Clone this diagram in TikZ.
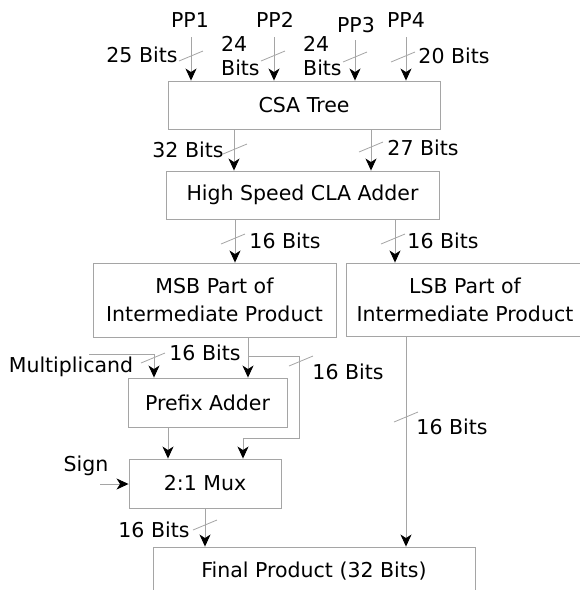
\documentclass[tikz,border=0pt]{standalone}
\usepackage{fontspec}
\setmainfont{DejaVu Sans}
\usetikzlibrary{arrows.meta}
\definecolor{linegray}{RGB}{165,165,165}
\begin{document}
\begin{tikzpicture}[x=1pt,y=-1pt,
  box/.style={draw=linegray,line width=0.9pt,rectangle,inner sep=0pt,align=center,font=\fontsize{20.5}{28}\selectfont},
  lbl/.style={inner sep=0pt,font=\fontsize{20.5}{24}\selectfont},
  arr/.style={draw=linegray,line width=0.9pt,-{Stealth[length=12pt,width=11pt,inset=3.5pt,color=black,fill=black]}},
  slash/.style={draw=linegray,line width=0.8pt}]
\clip (0,0) rectangle (580,590);
\useasboundingbox (0,0) rectangle (580,590);
% boxes
\node[box,minimum width=272pt,minimum height=48pt] (csa) at (304,105) {CSA Tree};
\node[box,minimum width=273pt,minimum height=48pt] (cla) at (302.5,195) {High Speed CLA Adder};
\node[box,minimum width=243pt,minimum height=74pt] (msb) at (214.5,300) {MSB Part of\\Intermediate Product};
\node[box,minimum width=238pt,minimum height=73pt] (lsb) at (465,299.5) {LSB Part of\\Intermediate Product};
\node[box,minimum width=159pt,minimum height=49pt] (pre) at (207.5,402.5) {Prefix Adder};
\node[box,minimum width=152pt,minimum height=49pt] (mux) at (205,483.5) {2:1 Mux};
\node[box,minimum width=322pt,minimum height=48pt] (fin) at (314,571) {Final Product (32 Bits)};
% top labels
\node[lbl] (pp1) at (190,20) {PP1};
\node[lbl] (pp2) at (275,20) {PP2};
\node[lbl] (pp3) at (356,25) {PP3};
\node[lbl] (pp4) at (406,20) {PP4};
\node[lbl] (b1) at (142,55) {25 Bits};
\node[lbl,anchor=west,align=left] (b2) at (221,56) {24\\Bits};
\node[lbl,anchor=west,align=left] (b3) at (303,56) {24\\Bits};
\node[lbl] (b4) at (454,56) {20 Bits};
\node[lbl] (b5) at (188,150) {32 Bits};
\node[lbl] (b6) at (423,148) {27 Bits};
\node[lbl] (b7) at (285,241) {16 Bits};
\node[lbl] (b8) at (443,241) {16 Bits};
\node[lbl] (mc) at (71,367) {Multiplicand};
\node[lbl] (b9) at (205,353) {16 Bits};
\node[lbl] (b10) at (348,372) {16 Bits};
\node[lbl] (b11) at (452,427) {16 Bits};
\node[lbl] (sg) at (86,466) {Sign};
\node[lbl] (b12) at (154,530) {16 Bits};
% PP arrows
\coordinate (x1) at (191,37);
\coordinate (x2) at (274,37);
\coordinate (x3) at (355,40);
\coordinate (x4) at (406,37);
\foreach \c in {x1,x2,x3,x4}{\draw[arr] (\c) -- (\c |- csa.north);}
% CSA -> CLA
\coordinate (c1) at (234,0);
\coordinate (c2) at (371,0);
\draw[arr] (c1 |- csa.south) -- (c1 |- cla.north);
\draw[arr] (c2 |- csa.south) -- (c2 |- cla.north);
% CLA -> MSB/LSB
\coordinate (c3) at (235,0);
\coordinate (c4) at (395,0);
\draw[arr] (c3 |- cla.south) -- (c3 |- msb.north);
\draw[arr] (c4 |- cla.south) -- (c4 |- lsb.north);
% MSB -> prefix and branch to mux
\coordinate (c5) at (248,0);
\coordinate (br) at (248,356);
\draw[arr] (c5 |- msb.south) -- (c5 |- pre.north);
\coordinate (m2) at (243,0);
\draw[arr] (br) -- (299,356) -- (299,438) -- (243,438) -- (m2 |- mux.north);
% multiplicand
\coordinate (mcs) at (89,354);
\coordinate (c6) at (154,0);
\draw[arr] (mcs) -- (154,354) -- (c6 |- pre.north);
% prefix -> mux
\coordinate (c7) at (168,0);
\draw[arr] (c7 |- pre.south) -- (c7 |- mux.north);
% sign
\coordinate (sgs) at (100,484);
\draw[arr] (sgs) -- (sgs -| mux.west);
% mux -> final
\coordinate (c8) at (205,0);
\draw[arr] (c8 |- mux.south) -- (c8 |- fin.north);
% lsb -> final
\coordinate (c9) at (406,0);
\draw[arr] (c9 |- lsb.south) -- (c9 |- fin.north);
% slashes
\foreach \p in {(191,56),(273,56),(355,57),(403,57),(235,149),(371,147),(233,239),(393,239),(153,358),(301,361),(406,417),(205,525)}{
  \draw[slash] \p ++(-12,5) -- ++(24,-10);}
\end{tikzpicture}
\end{document}
